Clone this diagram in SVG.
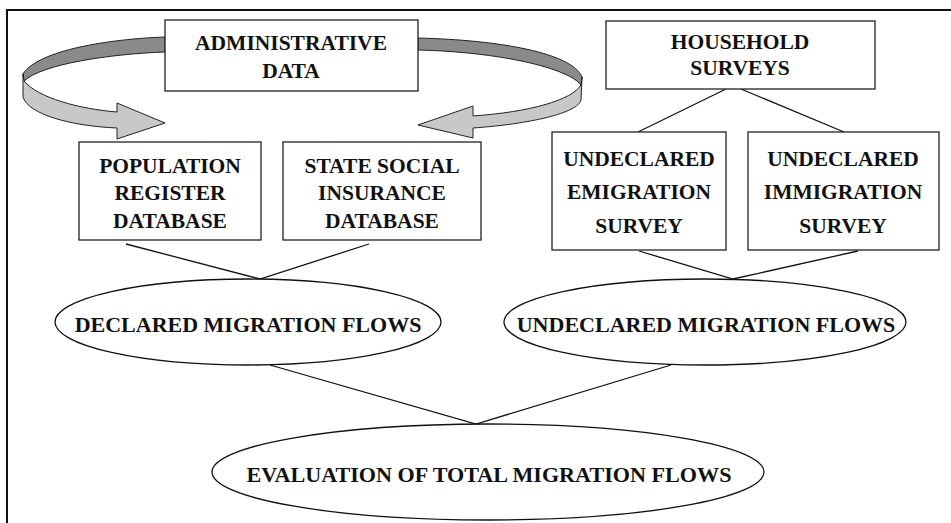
<svg xmlns="http://www.w3.org/2000/svg" width="951" height="523" viewBox="0 0 951 523">
<style>
.box{fill:#fff;stroke:#222;stroke-width:1.3}
.ell{fill:#fff;stroke:#111;stroke-width:1.3}
.t{font-family:"Liberation Serif","Times New Roman",serif;font-weight:bold;font-size:21.5px;fill:#111;text-anchor:middle}
.te{font-family:"Liberation Serif","Times New Roman",serif;font-weight:bold;font-size:22px;fill:#111;text-anchor:middle}
.c{stroke:#111;stroke-width:1.3;fill:none}
.dark{fill:#8a8a8a;stroke:#222;stroke-width:1}
.light{fill:#c8c8c8;stroke:#222;stroke-width:1}
</style>
<rect width="951" height="523" fill="#fff"/>
<path d="M7,523 V10 H951" fill="none" stroke="#111" stroke-width="2"/>
<g id="connectors">
<path class="c" d="M126,244 L260,279 L369,244"/>
<path class="c" d="M639,251 L733,279 L858,251"/>
<path class="c" d="M726,89 L638,132 M741,89 L844,132"/>
<path class="c" d="M270,365 L476,424 L671,365"/>
<g id="arrow-left">
<path class="dark" d="M165,37 C110,39 38,50 23,74 L24,81 C42,64 110,54 165,52 Z"/>
<path class="light" d="M24,81 C38,98 80,109 117,112 L117,103 L165,123 L117,139 L117,128 C70,126 28,114 23,97 L23,74 Z"/>
</g>
<g id="arrow-right">
<path class="dark" d="M418,38 C500,40 572,53 582,77 L581,85 C568,68 500,52 418,50 Z"/>
<path class="light" d="M581,85 C572,100 530,112 473,116 L473,106 L418,125 L473,138 L473,128 C530,124 578,113 581,100 L582,77 Z"/>
</g>
</g>
<g id="admin">
<rect class="box" x="165" y="20" width="253" height="71"/>
<text class="t" x="291" y="50">ADMINISTRATIVE</text>
<text class="t" x="291" y="78">DATA</text>
</g>
<g id="household">
<rect class="box" x="606" y="21" width="269" height="68"/>
<text class="t" x="740" y="49">HOUSEHOLD</text>
<text class="t" x="740" y="75">SURVEYS</text>
</g>
<g id="population">
<rect class="box" x="79" y="142" width="182" height="98"/>
<text class="t" x="170" y="173">POPULATION</text>
<text class="t" x="170" y="200">REGISTER</text>
<text class="t" x="170" y="228">DATABASE</text>
</g>
<g id="social">
<rect class="box" x="283" y="142" width="198" height="98"/>
<text class="t" x="382" y="173">STATE SOCIAL</text>
<text class="t" x="382" y="200">INSURANCE</text>
<text class="t" x="382" y="228">DATABASE</text>
</g>
<g id="emigration">
<rect class="box" x="552" y="132" width="174" height="118"/>
<text class="t" x="639" y="166">UNDECLARED</text>
<text class="t" x="639" y="199">EMIGRATION</text>
<text class="t" x="639" y="233">SURVEY</text>
</g>
<g id="immigration">
<rect class="box" x="748" y="132" width="191" height="118"/>
<text class="t" x="843" y="166">UNDECLARED</text>
<text class="t" x="843" y="199">IMMIGRATION</text>
<text class="t" x="843" y="233">SURVEY</text>
</g>
<g id="declared">
<ellipse class="ell" cx="248" cy="322" rx="193" ry="43"/>
<text class="te" x="248" y="332">DECLARED MIGRATION FLOWS</text>
</g>
<g id="undeclared">
<ellipse class="ell" cx="705" cy="322" rx="201" ry="43"/>
<text class="te" x="706" y="332">UNDECLARED MIGRATION FLOWS</text>
</g>
<g id="evaluation">
<ellipse class="ell" cx="488" cy="472" rx="276" ry="48"/>
<text class="te" x="489" y="482" textLength="485" lengthAdjust="spacingAndGlyphs">EVALUATION OF TOTAL MIGRATION FLOWS</text>
</g>
</svg>
